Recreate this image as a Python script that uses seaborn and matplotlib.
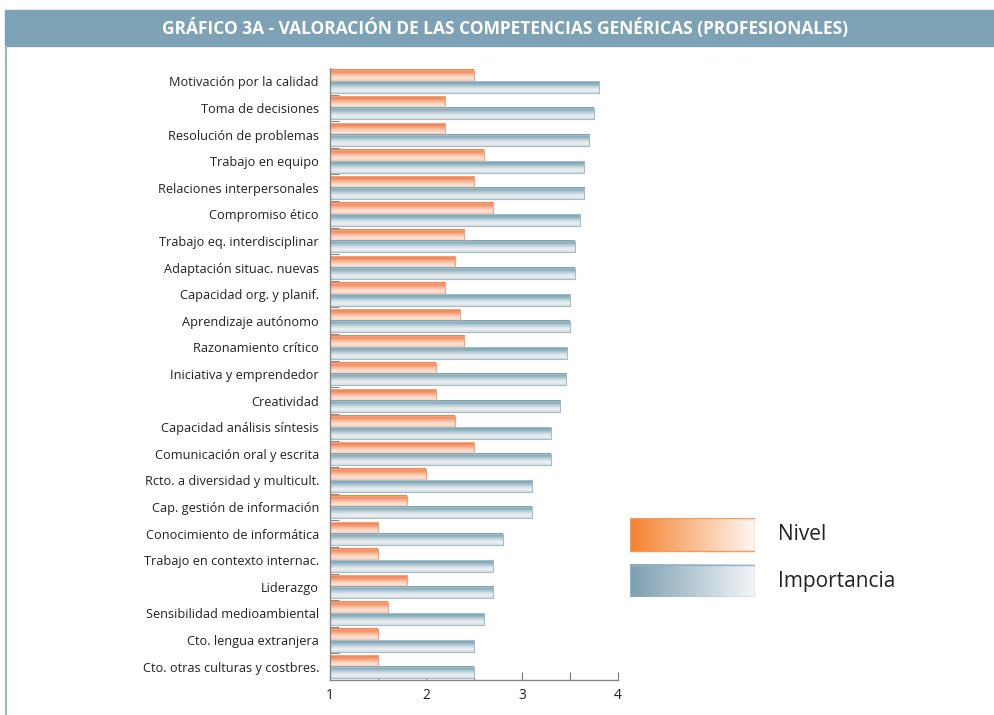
import numpy as np
import pandas as pd
import seaborn as sns
import matplotlib.pyplot as plt
from matplotlib.colors import LinearSegmentedColormap, to_rgb
from matplotlib.patches import Rectangle
from matplotlib.lines import Line2D

titulo = "GRÁFICO 3A - VALORACIÓN DE LAS COMPETENCIAS GENÉRICAS (PROFESIONALES)"
categorias = [
    "Motivación por la calidad", "Toma de decisiones", "Resolución de problemas",
    "Trabajo en equipo", "Relaciones interpersonales", "Compromiso ético",
    "Trabajo eq. interdisciplinar", "Adaptación situac. nuevas",
    "Capacidad org. y planif.", "Aprendizaje autónomo", "Razonamiento crítico",
    "Iniciativa y emprendedor", "Creatividad", "Capacidad análisis síntesis",
    "Comunicación oral y escrita", "Rcto. a diversidad y multicult.",
    "Cap. gestión de información", "Conocimiento de informática",
    "Trabajo en contexto internac.", "Liderazgo", "Sensibilidad medioambiental",
    "Cto. lengua extranjera", "Cto. otras culturas y costbres.",
]
nivel = [2.5, 2.2, 2.2, 2.6, 2.5, 2.7, 2.4, 2.3, 2.2, 2.35, 2.4, 2.1, 2.1,
         2.3, 2.5, 2.0, 1.8, 1.5, 1.5, 1.8, 1.6, 1.5, 1.5]
importancia = [3.8, 3.75, 3.7, 3.65, 3.65, 3.6, 3.55, 3.55, 3.5, 3.5, 3.47,
               3.46, 3.4, 3.3, 3.3, 3.1, 3.1, 2.8, 2.7, 2.7, 2.6, 2.5, 2.5]
series = ["Nivel", "Importancia"]
ticks_x = [1, 1.5, 2, 2.5, 3, 3.5, 4]
etiquetas_x = ["1", "", "2", "", "3", "", "4"]

df = pd.DataFrame({"competencia": categorias, "Nivel": nivel, "Importancia": importancia})
largo = df.melt(id_vars="competencia", value_vars=series, var_name="serie", value_name="valor")

sns.set_style("white")
plt.rcParams["font.family"] = ["Open Sans", "DejaVu Sans"]

W, H = 995, 715
fig = plt.figure(figsize=(W / 100, H / 100), dpi=100)
ax = fig.add_axes([330 / W, 1 - 680 / H, 288 / W, 612 / H])

sns.barplot(data=largo, y="competencia", x="valor", hue="serie", orient="h",
            width=0.86, palette=["#F4875A", "#7FA5B5"], saturation=1,
            legend=False, ax=ax)

# gradientes verticales en las barras
grad_nivel = LinearSegmentedColormap.from_list(
    "n", ["#F37D4A", "#F59266", "#F9C2A6", "#FCE4D8", "#F7CBB6"])
grad_imp = LinearSegmentedColormap.from_list(
    "i", ["#76A0B3", "#8DB2C1", "#C8D8DF", "#EEF1F2", "#D9E0E4"])
borde = {"Nivel": "#F5A37F", "Importancia": "#A5BCC7"}
t = np.linspace(0, 1, 64)

n = len(categorias)
for k, p in enumerate(ax.patches):
    serie = series[k // n]
    cmap = grad_nivel if serie == "Nivel" else grad_imp
    x0, y0 = p.get_x(), p.get_y()
    w, h = p.get_width(), p.get_height()
    img = cmap(t)[:, None, :3]
    im = ax.imshow(img, extent=(x0, x0 + w, y0 + h, y0), origin="upper",
                   aspect="auto", interpolation="bilinear", zorder=p.get_zorder())
    im.set_clip_path(p)
    im.set_clip_box(ax.bbox)
    p.set_clip_on(True)
    p.set_clip_box(ax.bbox)
    p.set_facecolor("none")
    p.set_edgecolor(borde[serie])
    p.set_linewidth(0.8)
    p.set_zorder(p.get_zorder() + 0.1)

ax.set_xlim(1, 4)
ax.set_ylim(n - 0.5, -0.5)
ax.set_xlabel("")
ax.set_ylabel("")
ax.set_xticks(ticks_x)
ax.set_xticklabels(etiquetas_x)
ax.tick_params(axis="x", direction="in", length=6, width=0.8, color="#777777",
               labelsize=10, labelcolor="#222222", pad=6, bottom=True)
ax.set_yticks(range(n))
ax.set_yticklabels(categorias)
ax.set_yticks(np.arange(n - 1) + 0.5, minor=True)
ax.tick_params(axis="y", which="major", length=0, pad=8, labelsize=9.2,
               labelcolor="#222222")
ax.tick_params(axis="y", which="minor", direction="in", length=6.5, width=0.8,
               color="#888888", left=True)
for s in ["top", "right"]:
    ax.spines[s].set_visible(False)
for s in ["left", "bottom"]:
    ax.spines[s].set_color("#888888")
    ax.spines[s].set_linewidth(1)
    ax.spines[s].set_zorder(5)

# barra de título y borde izquierdo
fig.patches.append(Rectangle((5 / W, 1 - 46 / H), 990 / W, 36 / H,
                             transform=fig.transFigure, color="#7DA2B6", zorder=0))
fig.text(505 / W, 1 - 28 / H, titulo, ha="center", va="center", color="white",
         fontsize=12.5, fontweight="bold")
fig.lines.append(Line2D([6 / W, 6 / W], [0, 1 - 46 / H], transform=fig.transFigure,
                        color="#9CB5C3", lw=1.5))

# leyenda con degradado horizontal
lax = fig.add_axes([630 / W, 1 - 597 / H, 125 / W, 79 / H])
lax.axis("off")
cajas = [("Nivel", "#F5822F", "#FFF6F0", "#F59A5C", (597 - 551) / 79, 1.0, 535),
         ("Importancia", "#7C9FB1", "#F2F5F7", "#93B2C3", 0.0, (597 - 565) / 79, 581)]
for nombre, c0, c1, ce, yb, yt, ytxt in cajas:
    g = np.linspace(0, 1, 64)[None, :, None]
    img = (1 - g) * np.array(to_rgb(c0)) + g * np.array(to_rgb(c1))
    lax.imshow(img, extent=(0, 1, yb, yt), aspect="auto", interpolation="bilinear")
    lax.add_patch(Rectangle((0, yb), 1, yt - yb, fill=False, edgecolor=ce, lw=1))
    fig.text(778 / W, 1 - ytxt / H, nombre, ha="left", va="center", fontsize=15,
             color="#222222")
lax.set_xlim(0, 1)
lax.set_ylim(0, 1)

fig.savefig("out.png", dpi=100, facecolor="white")
